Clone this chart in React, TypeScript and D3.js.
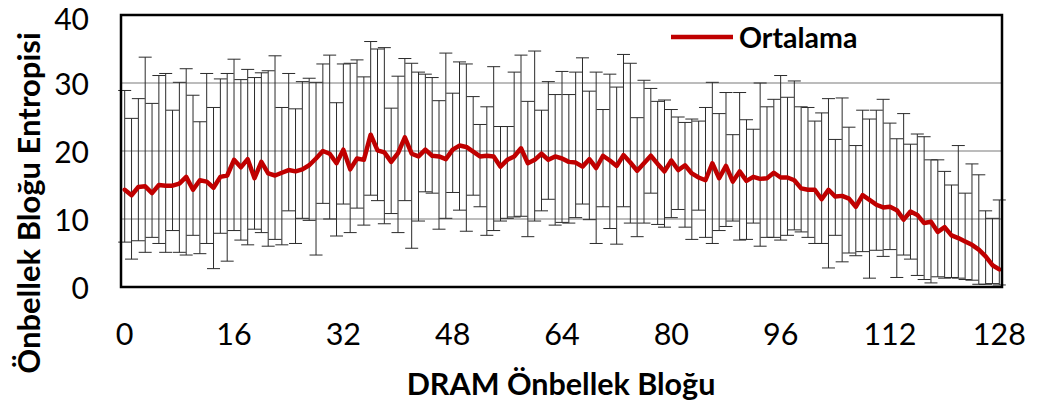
import React from "react";
import * as d3 from "d3";

const blocks: number[] = d3.range(0, 129);

const meanValues: number[] = [
  14.3, 13.5, 14.7, 14.8, 13.8, 15.0, 14.9, 14.9, 15.2, 16.2,
  14.3, 15.7, 15.5, 14.6, 16.2, 16.4, 18.7, 17.6, 18.8, 16.0,
  18.4, 16.7, 16.4, 16.8, 17.2, 17.0, 17.3, 17.9, 18.9, 20.0,
  19.6, 18.2, 20.2, 17.3, 18.9, 18.7, 22.4, 20.1, 19.8, 18.4,
  19.7, 22.0, 19.6, 19.2, 20.2, 19.3, 19.2, 18.8, 20.2, 20.8,
  20.6, 19.9, 19.2, 19.3, 19.2, 17.7, 18.7, 19.2, 20.4, 18.2,
  18.7, 19.6, 18.7, 19.2, 18.9, 18.4, 18.3, 17.7, 18.8, 17.5,
  19.3, 18.6, 17.8, 19.4, 18.3, 17.1, 18.2, 19.3, 18.1, 17.0,
  18.6, 17.2, 17.9, 16.7, 16.1, 15.7, 18.2, 16.0, 17.8, 15.5,
  17.0, 15.6, 16.2, 15.9, 16.0, 16.8, 16.1, 16.1, 15.7, 14.5,
  14.3, 14.3, 12.9, 14.3, 13.3, 13.4, 13.0, 11.8, 13.5, 12.8,
  12.1, 11.7, 11.8, 11.3, 9.9, 11.1, 10.6, 9.4, 9.6, 8.1,
  8.8, 7.6, 7.2, 6.7, 6.2, 5.5, 4.5, 3.2, 2.6,
];

const upperValues: number[] = [
  28.9, 24.8, 27.7, 33.8, 27.0, 31.1, 31.4, 26.0, 30.1, 32.1,
  28.2, 24.3, 31.4, 26.4, 30.6, 31.4, 33.5, 30.5, 32.0, 30.8,
  31.5, 31.8, 34.0, 26.4, 31.4, 26.2, 30.2, 30.7, 30.1, 32.8,
  34.1, 27.1, 32.8, 32.9, 33.4, 30.9, 36.1, 35.0, 35.2, 26.3,
  31.0, 33.6, 32.9, 31.6, 31.3, 30.8, 27.4, 34.4, 28.5, 33.1,
  32.8, 28.0, 23.9, 26.5, 32.4, 23.6, 23.6, 31.6, 34.1, 27.3,
  34.7, 26.0, 30.2, 28.3, 31.7, 28.3, 31.6, 33.7, 28.8, 31.6,
  26.1, 31.3, 29.4, 34.2, 32.9, 24.9, 30.4, 29.2, 27.3, 27.5,
  26.1, 25.0, 24.2, 24.7, 24.4, 26.4, 30.1, 25.5, 28.6, 22.4,
  28.6, 24.6, 23.2, 30.0, 26.5, 27.6, 31.1, 27.9, 30.3, 26.5,
  26.4, 24.4, 25.6, 27.7, 21.7, 27.8, 23.5, 20.8, 26.0, 24.7,
  26.0, 27.6, 24.1, 21.8, 25.5, 21.0, 22.5, 22.1, 18.7, 18.7,
  17.0, 15.0, 20.8, 13.8, 18.1, 16.5, 11.2, 10.1, 12.8,
];

const lowerValues: number[] = [
  6.6, 4.1, 6.8, 5.1, 7.3, 6.4, 5.1, 8.3, 5.1, 4.7,
  7.6, 4.9, 6.4, 2.7, 7.9, 3.8, 8.3, 6.9, 6.2, 8.5,
  8.0, 6.0, 7.0, 6.2, 11.2, 6.4, 10.1, 9.8, 4.7, 12.3,
  10.0, 7.5, 12.2, 8.0, 11.6, 9.1, 13.5, 12.7, 9.3, 10.8,
  8.0, 12.7, 5.7, 9.7, 14.0, 13.8, 8.5, 10.1, 13.9, 11.3,
  8.2, 13.5, 11.8, 7.6, 8.3, 9.7, 10.1, 10.3, 10.4, 7.4,
  9.7, 11.2, 12.9, 9.1, 9.5, 9.4, 10.2, 12.2, 9.9, 6.4,
  11.8, 8.6, 6.3, 11.8, 9.4, 7.4, 9.4, 13.8, 9.2, 8.8,
  10.2, 11.4, 8.8, 7.0, 11.3, 7.3, 6.4, 8.3, 8.9, 9.7,
  6.9, 7.0, 9.4, 6.0, 7.3, 7.3, 6.9, 7.6, 8.4, 8.1,
  7.3, 6.4, 6.4, 2.8, 7.6, 3.7, 5.0, 4.6, 5.2, 1.3,
  5.4, 4.5, 5.5, 1.4, 4.7, 4.1, 1.7, 1.1, 0.6, 1.5,
  1.3, 1.4, 1.3, 1.1, 1.0, 0.4, 0.4, 0.5, 0.3,
];

const xTicks: number[] = [0, 16, 32, 48, 64, 80, 96, 112, 128];
const yTicks: number[] = [0, 10, 20, 30, 40];
const yGrid: number[] = [10, 20, 30];

const seriesName = "Ortalama";
const xTitle = "DRAM Önbellek Bloğu";
const yTitle = "Önbellek Bloğu Entropisi";

const W = 1037;
const H = 405;
const plotLeft = 121;
const plotRight = 1002;
const plotTop = 15;
const plotBottom = 287;

const FONT = "Lato, 'Open Sans', sans-serif";

export default function App() {
  const x = d3.scaleLinear().domain([0, 128]).range([124.7, 999.3]);
  const y = d3.scaleLinear().domain([0, 40]).range([plotBottom, plotTop]);

  const line = d3
    .line<number>()
    .x((_, i) => x(blocks[i]))
    .y((d) => y(d));

  const capHalf = 6.5;

  return (
    <div style={{ position: "fixed", left: 0, top: 0, width: W, height: H, background: "#fff" }}>
      <svg width={W} height={H} style={{ display: "block" }}>
        <rect x={0} y={0} width={W} height={H} fill="#fff" />
        {yGrid.map((t) => (
          <line
            key={"g" + t}
            x1={plotLeft}
            x2={plotRight}
            y1={y(t)}
            y2={y(t)}
            stroke="#a6a6a6"
            strokeWidth={1.3}
          />
        ))}
        <g stroke="#2b2b2b" strokeWidth={1}>
          {blocks.map((b, i) => {
            const cx = x(b);
            const yu = y(upperValues[i]);
            const yl = y(lowerValues[i]);
            return (
              <g key={"e" + i}>
                <line x1={cx} x2={cx} y1={yu} y2={yl} />
                <line x1={cx - capHalf} x2={cx + capHalf} y1={yu} y2={yu} />
                <line x1={cx - capHalf} x2={cx + capHalf} y1={yl} y2={yl} />
              </g>
            );
          })}
        </g>
        <path
          d={line(meanValues) || ""}
          fill="none"
          stroke="#c00000"
          strokeWidth={4.5}
          strokeLinejoin="round"
          strokeLinecap="round"
        />
        <rect
          x={plotLeft}
          y={plotTop}
          width={plotRight - plotLeft}
          height={plotBottom - plotTop}
          fill="none"
          stroke="#000"
          strokeWidth={2.5}
        />
        {yTicks.map((t) => (
          <text
            key={"yt" + t}
            x={89}
            y={y(t) + (t === 40 ? 3 : 0)}
            textAnchor="end"
            dominantBaseline="central"
            fontFamily={FONT}
            fontSize={30}
            fill="#000"
          >
            {t}
          </text>
        ))}
        {xTicks.map((t) => (
          <text
            key={"xt" + t}
            x={x(t)}
            y={333}
            textAnchor="middle"
            dominantBaseline="central"
            fontFamily={FONT}
            fontSize={30.5}
            fill="#000"
          >
            {t}
          </text>
        ))}
        <text
          x={561}
          y={383}
          textAnchor="middle"
          dominantBaseline="central"
          fontFamily={FONT}
          fontWeight="bold"
          fontSize={30.5}
          fill="#000"
        >
          {xTitle}
        </text>
        <text
          transform={`translate(28,${203}) rotate(-90)`}
          textAnchor="middle"
          dominantBaseline="central"
          fontFamily={FONT}
          fontWeight="bold"
          fontSize={31}
          fill="#000"
        >
          {yTitle}
        </text>
        <line x1={671} x2={733} y1={37} y2={37} stroke="#c00000" strokeWidth={4.5} />
        <text
          x={739}
          y={37}
          dominantBaseline="central"
          fontFamily={FONT}
          fontWeight="bold"
          fontSize={28.5}
          fill="#000"
        >
          {seriesName}
        </text>
      </svg>
    </div>
  );
}
